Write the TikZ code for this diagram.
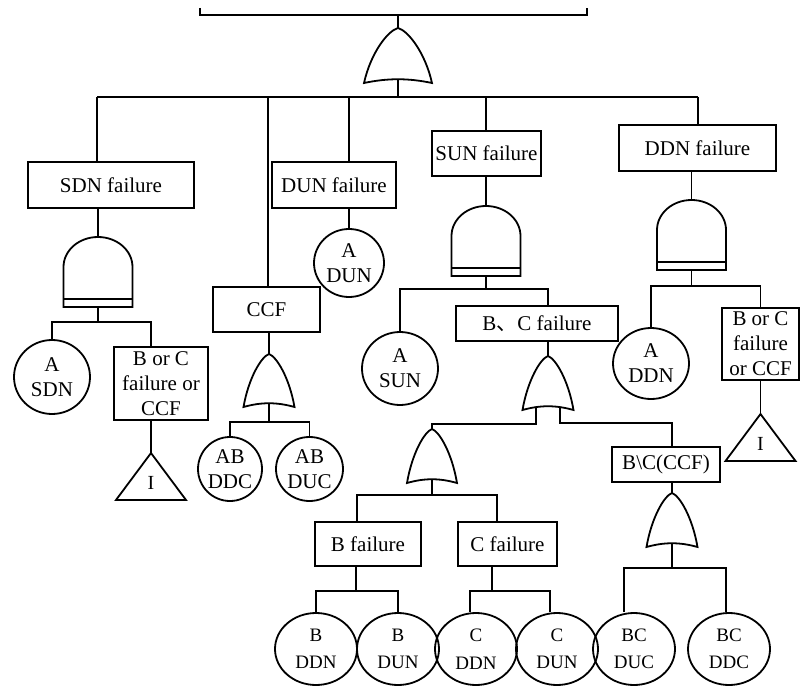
\documentclass[tikz,border=0pt]{standalone}
\usepackage{fontspec}
\setmainfont{Liberation Serif}
\newfontfamily\cjk{Noto Sans CJK SC}
\usetikzlibrary{shapes.geometric}
% OR gate: name, x, y (apex), half width, height
\newcommand\myorgate[5]{%
  \begin{scope}[shift={(#2,#3)}]
    \draw (-#4,#5) .. controls (-0.8*#4,0.45*#5) and (-0.3*#4,0.05*#5) .. (0,0)
          .. controls (0.3*#4,0.05*#5) and (0.8*#4,0.45*#5) .. (#4,#5)
          .. controls (0.3*#4,#5-5) and (-0.3*#4,#5-5) .. cycle;
    \coordinate (#1-in) at (0,0);
    \coordinate (#1-out) at (0,#5-4);
    \coordinate (#1-outl) at (-12,#5-3.5);
    \coordinate (#1-outr) at (12,#5-3.5);
  \end{scope}}
% AND gate: name, x, y (top)
\newcommand\myandgate[3]{%
  \begin{scope}[shift={(#2,#3)}]
    \draw (-34.5,70) -- (-34.5,30) .. controls (-34.5,13.4) and (-19,0) .. (0,0)
          .. controls (19,0) and (34.5,13.4) .. (34.5,30) -- (34.5,70) -- cycle;
    \draw (-34.5,62) -- (34.5,62);
    \coordinate (#1-in) at (0,0);
    \coordinate (#1-out) at (0,70);
  \end{scope}}
\tikzset{
  box/.style={draw, rectangle, inner sep=0pt, align=center,
    font=\fontsize{21pt}{25pt}\selectfont},
  ev/.style={draw, ellipse, inner sep=-8pt, align=center,
    font=\fontsize{21pt}{25pt}\selectfont},
  evs/.style={draw, ellipse, inner sep=-10pt, align=center,
    font=\fontsize{19pt}{27.5pt}\selectfont},
  tritext/.style={inner sep=0pt, font=\fontsize{20pt}{24pt}\selectfont}
}
\begin{document}
\begin{tikzpicture}[x=1pt, y=-1pt, line width=1.8pt]
\useasboundingbox (0,0) rectangle (808,687);

% truncated top event
\draw (200,8) -- (200,15) -- (587,15) -- (587,8);
\coordinate (top) at (398,15);

% gates
\myorgate{g0}{398}{28}{34}{55}
\myandgate{ga1}{98}{237}
\myorgate{go1}{269}{354}{25.5}{53}
\myandgate{ga2}{486}{206}
\myorgate{go2}{548}{356}{25.5}{54}
\myorgate{go3}{432}{429}{25}{54}
\myorgate{go4}{672}{493}{25.5}{54}
\myandgate{ga3}{691.5}{200}

% boxes
\node[box, minimum width=166pt, minimum height=46pt] (sdn) at (111,185) {SDN failure};
\node[box, minimum width=124pt, minimum height=46pt] (dun) at (334,185) {DUN failure};
\node[box, minimum width=109pt, minimum height=45pt] (sun) at (486.5,153.5) {SUN failure};
\node[box, minimum width=157pt, minimum height=46pt] (ddn) at (697.5,148) {DDN failure};
\node[box, minimum width=107pt, minimum height=45pt] (ccf) at (266.5,309.5) {CCF};
\node[box, minimum width=94pt, minimum height=73pt] (bcl) at (161,383.5) {B or C\\failure or\\CCF};
\node[box, minimum width=162pt, minimum height=35pt] (bc) at (537,323.5) {B{\cjk 、}C failure};
\node[box, minimum width=106pt, minimum height=44pt] (bf) at (368,544) {B failure};
\node[box, minimum width=99pt, minimum height=44pt] (cf) at (507.5,544) {C failure};
\node[box, minimum width=108pt, minimum height=35pt] (bcc) at (666,464.5) {B\textbackslash C(CCF)};
\node[box, minimum width=77pt, minimum height=72pt] (bcr) at (760.5,344) {B or C\\failure\\or CCF};

% basic events
\node[ev, minimum width=76pt, minimum height=74pt] (asdn) at (52,377) {A\\SDN};
\node[ev, minimum width=70pt, minimum height=68pt] (adun) at (349,263) {A\\DUN};
\node[ev, minimum width=64pt, minimum height=64pt] (abddc) at (230,469) {AB\\DDC};
\node[ev, minimum width=67pt, minimum height=64pt] (abduc) at (309.5,469) {AB\\DUC};
\node[ev, minimum width=76pt, minimum height=73pt] (asun) at (400,368.5) {A\\SUN};
\node[ev, minimum width=76pt, minimum height=71pt] (addn) at (651,363.5) {A\\DDN};
\node[evs, minimum width=82pt, minimum height=72pt] (bddn) at (316,649) {B\\DDN};
\node[evs, minimum width=82pt, minimum height=72pt] (bdun) at (398,649) {B\\DUN};
\node[evs, minimum width=82pt, minimum height=72pt] (cddn) at (476,649) {C\\DDN};
\node[evs, minimum width=82pt, minimum height=72pt] (cdun) at (557,649) {C\\DUN};
\node[evs, minimum width=82pt, minimum height=72pt] (bcduc) at (634,649) {BC\\DUC};
\node[evs, minimum width=82pt, minimum height=72pt] (bcddc) at (729,649) {BC\\DDC};

% transfer triangles
\coordinate (tri1) at (151,453);
\draw (tri1) -- ++(35,47) -- ++(-70,0) -- cycle;
\node[tritext] (t1) at (151,483) {I};
\coordinate (tri2) at (760.5,414);
\draw (tri2) -- ++(35,47) -- ++(-70,0) -- cycle;
\node[tritext] (t2) at (760.5,444) {I};

% top level
\draw (top) -- (g0-in);
\coordinate (bus) at (398,97);
\draw (g0-out) -- (bus);
\coordinate (b1) at (97,97);
\coordinate (b2) at (268,97);
\coordinate (b3) at (349,97);
\coordinate (b4) at (486,97);
\coordinate (b5) at (698,97);
\draw (b1) -- (b5);
\draw (b1) -- (b1 |- sdn.north);
\draw (b2) -- (b2 |- ccf.north);
\draw (b3) -- (b3 |- dun.north);
\draw (b4) -- (b4 |- sun.north);
\draw (b5) -- (b5 |- ddn.north);

% SDN branch
\draw (ga1-in |- sdn.south) -- (ga1-in);
\coordinate (h1l) at (52,322);
\coordinate (h1r) at (151,322);
\draw (ga1-out) -- (ga1-out |- h1l);
\draw (asdn.north) -- (h1l) -- (h1r) -- (h1r |- bcl.north);
\draw (tri1 |- bcl.south) -- (tri1);

% CCF branch
\draw (go1-in |- ccf.south) -- (go1-in);
\coordinate (h2l) at (230,422);
\coordinate (h2r) at (309.5,422);
\draw (go1-out) -- (go1-out |- h2l);
\draw (abddc.north) -- (h2l) -- (h2r) -- (abduc.north);

% DUN branch
\draw (adun.north |- dun.south) -- (adun.north);

% SUN branch
\draw (ga2-in |- sun.south) -- (ga2-in);
\coordinate (h3l) at (400,289);
\coordinate (h3r) at (548,289);
\draw (ga2-out) -- (ga2-out |- h3l);
\draw (asun.north) -- (h3l) -- (h3r) -- (h3r |- bc.north);
\draw (go2-in |- bc.south) -- (go2-in);
\coordinate (h4) at (432,424);
\draw (go2-outl) -- (go2-outl |- h4) -- (h4) -- (go3-in);
\coordinate (h5) at (672,423);
\draw (go2-outr) -- (go2-outr |- h5) -- (h5) -- (h5 |- bcc.north);

% B / C failure
\coordinate (h6l) at (357,495);
\coordinate (h6r) at (497,495);
\draw (go3-out) -- (go3-out |- h6l);
\draw (h6l |- bf.north) -- (h6l) -- (h6r) -- (h6r |- cf.north);
\coordinate (h7) at (356,591);
\draw (h7 |- bf.south) -- (h7);
\draw (bddn.north) -- (bddn.north |- h7) -- (bdun.north |- h7) -- (bdun.north);
\coordinate (h8) at (492,591);
\coordinate (h8l) at (470,591);
\coordinate (h8r) at (550,591);
\draw (h8 |- cf.south) -- (h8);
\draw (h8l |- cddn.north) -- (h8l) -- (h8r) -- (h8r |- cdun.north);

% B\C(CCF)
\draw (go4-in |- bcc.south) -- (go4-in);
\coordinate (h9l) at (624,568);
\coordinate (h9r) at (726,568);
\draw (go4-out) -- (go4-out |- h9l);
\draw (h9l |- bcduc.north) -- (h9l) -- (h9r) -- (h9r |- bcddc.north);

% DDN branch
\draw (ga3-in |- ddn.south) -- (ga3-in);
\coordinate (h10l) at (651,286);
\coordinate (h10r) at (760.5,286);
\draw (ga3-out) -- (ga3-out |- h10l);
\draw (addn.north) -- (h10l) -- (h10r) -- (h10r |- bcr.north);
\draw (tri2 |- bcr.south) -- (tri2);
\end{tikzpicture}
\end{document}
